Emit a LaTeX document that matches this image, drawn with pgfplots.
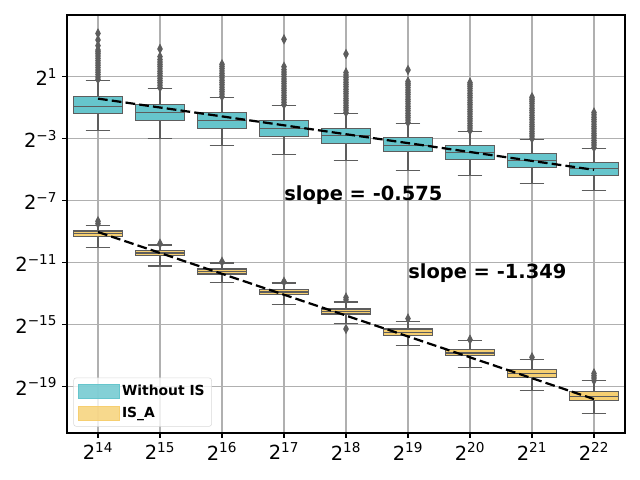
\documentclass[border=0pt]{standalone}
\usepackage{fontspec}
\setmainfont{DejaVu Sans}
\usepackage{pgfplots}
\pgfplotsset{compat=1.18}
\usepgfplotslibrary{statistics}
\definecolor{cteal}{HTML}{66C5CC}
\definecolor{cyel}{HTML}{F6CF71}
\definecolor{boxgray}{HTML}{5D5D5D}
\definecolor{gridgray}{HTML}{B0B0B0}
\pgfplotsset{
  bx/.style={boxplot prepared={#1}, draw=boxgray, line width=0.8pt, mark=diamond*, mark size=3pt,
    mark options={fill=boxgray, draw=boxgray, xscale=0.7, solid}, forget plot},
}
\begin{document}
\begin{tikzpicture}
\path[use as bounding box] (0,0) rectangle (460.8pt,345.6pt);
\begin{axis}[
  at={(48.24pt,33.84pt)}, anchor=south west,
  scale only axis, width=401.76pt, height=300.96pt,
  xmin=-0.5, xmax=8.5, ymin=-22, ymax=5,
  xtick={0,1,2,3,4,5,6,7,8},
  xticklabels={2\textsuperscript{14},2\textsuperscript{15},2\textsuperscript{16},2\textsuperscript{17},2\textsuperscript{18},2\textsuperscript{19},2\textsuperscript{20},2\textsuperscript{21},2\textsuperscript{22}},
  ytick={1,-3,-7,-11,-15,-19},
  yticklabels={2\textsuperscript{1},2\textsuperscript{−3},2\textsuperscript{−7},2\textsuperscript{−11},2\textsuperscript{−15},2\textsuperscript{−19}},
  ticklabel style={font=\fontsize{14}{16}\selectfont},
  tick align=outside, tick pos=left, major tick length=3.5pt,
  tick style={black, line width=0.8pt},
  axis line style={line width=0.8pt},
  grid=major, grid style={color=gridgray, line width=0.8pt},
  boxplot/draw direction=y,
  boxplot/box extend=0.8, boxplot/whisker extend=0.4,
  legend style={at={(rel axis cs:0.0113,0.015)}, anchor=south west,
    font=\bfseries\fontsize{10}{12}\selectfont, draw=black!15, fill=white, fill opacity=0.8, text opacity=1,
    rounded corners=2pt, row sep=3pt, inner sep=3pt},
  legend cell align=left,
]
% ---------- Without IS ----------
\addplot[bx={draw position=0, lower whisker=-2.44, lower quartile=-1.34, median=-0.89, upper quartile=-0.245, upper whisker=0.787}, fill=cteal]
 table[row sep=\\,y index=0]{0.85\\1.0\\1.15\\1.3\\1.45\\1.6\\1.75\\1.9\\2.05\\2.2\\2.35\\2.5\\2.62\\2.74\\3.02\\3.39\\3.81\\};
\addplot[bx={draw position=1, lower whisker=-3.0, lower quartile=-1.79, median=-1.32, upper quartile=-0.76, upper whisker=0.27}, fill=cteal]
 table[row sep=\\,y index=0]{0.32\\0.47\\0.62\\0.77\\0.92\\1.07\\1.22\\1.37\\1.52\\1.67\\1.82\\1.97\\2.12\\2.31\\2.81\\};
\addplot[bx={draw position=2, lower whisker=-3.41, lower quartile=-2.31, median=-1.84, upper quartile=-1.28, upper whisker=-0.31}, fill=cteal]
 table[row sep=\\,y index=0]{-0.26\\-0.11\\0.04\\0.19\\0.34\\0.49\\0.64\\0.79\\0.94\\1.09\\1.24\\1.39\\1.54\\1.68\\1.82\\};
\addplot[bx={draw position=3, lower whisker=-3.99, lower quartile=-2.83, median=-2.35, upper quartile=-1.79, upper whisker=-0.83}, fill=cteal]
 table[row sep=\\,y index=0]{-0.78\\-0.63\\-0.48\\-0.33\\-0.18\\-0.03\\0.12\\0.27\\0.42\\0.57\\0.72\\0.87\\1.02\\1.17\\1.32\\1.47\\1.66\\3.43\\};
\addplot[bx={draw position=4, lower whisker=-4.37, lower quartile=-3.28, median=-2.79, upper quartile=-2.31, upper whisker=-1.34}, fill=cteal]
 table[row sep=\\,y index=0]{-1.29\\-1.14\\-0.99\\-0.84\\-0.69\\-0.54\\-0.39\\-0.24\\-0.09\\0.06\\0.21\\0.36\\0.51\\0.66\\0.81\\0.96\\1.12\\1.28\\2.48\\};
\addplot[bx={draw position=5, lower whisker=-5.02, lower quartile=-3.79, median=-3.41, upper quartile=-2.89, upper whisker=-1.99}, fill=cteal]
 table[row sep=\\,y index=0]{-1.94\\-1.79\\-1.64\\-1.49\\-1.34\\-1.19\\-1.04\\-0.89\\-0.74\\-0.59\\-0.44\\-0.29\\-0.14\\0.01\\0.16\\0.31\\0.46\\0.58\\0.70\\1.45\\};
\addplot[bx={draw position=6, lower whisker=-5.34, lower quartile=-4.31, median=-3.86, upper quartile=-3.41, upper whisker=-2.50}, fill=cteal]
 table[row sep=\\,y index=0]{-2.45\\-2.30\\-2.15\\-2.00\\-1.85\\-1.70\\-1.55\\-1.40\\-1.25\\-1.10\\-0.95\\-0.80\\-0.65\\-0.50\\-0.35\\-0.20\\-0.05\\0.10\\0.25\\0.40\\0.52\\0.63\\};
\addplot[bx={draw position=7, lower whisker=-5.86, lower quartile=-4.83, median=-4.42, upper quartile=-3.95, upper whisker=-3.02}, fill=cteal]
 table[row sep=\\,y index=0]{-2.97\\-2.82\\-2.67\\-2.52\\-2.37\\-2.22\\-2.07\\-1.92\\-1.77\\-1.62\\-1.47\\-1.32\\-1.17\\-1.02\\-0.87\\-0.72\\-0.57\\-0.44\\-0.31\\};
\addplot[bx={draw position=8, lower whisker=-6.31, lower quartile=-5.34, median=-4.94, upper quartile=-4.53, upper whisker=-3.60}, fill=cteal]
 table[row sep=\\,y index=0]{-3.55\\-3.40\\-3.25\\-3.10\\-2.95\\-2.80\\-2.65\\-2.50\\-2.35\\-2.20\\-2.05\\-1.90\\-1.75\\-1.60\\-1.45\\-1.30\\};
% ---------- IS_A ----------
\addplot[bx={draw position=0, lower whisker=-9.99, lower quartile=-9.28, median=-9.11, upper quartile=-8.955, upper whisker=-8.57}, fill=cyel]
 table[row sep=\\,y index=0]{-8.48\\-8.32\\};
\addplot[bx={draw position=1, lower whisker=-11.21, lower quartile=-10.51, median=-10.37, upper quartile=-10.24, upper whisker=-9.86}, fill=cyel]
 table[row sep=\\,y index=0]{-9.77\\};
\addplot[bx={draw position=2, lower whisker=-12.29, lower quartile=-11.73, median=-11.56, upper quartile=-11.41, upper whisker=-11.02}, fill=cyel]
 table[row sep=\\,y index=0]{-10.94\\};
\addplot[bx={draw position=3, lower whisker=-13.69, lower quartile=-13.03, median=-12.89, upper quartile=-12.75, upper whisker=-12.31}, fill=cyel]
 table[row sep=\\,y index=0]{-12.23\\};
\addplot[bx={draw position=4, lower whisker=-14.95, lower quartile=-14.31, median=-14.14, upper quartile=-13.99, upper whisker=-13.54}, fill=cyel]
 table[row sep=\\,y index=0]{-13.25\\-13.40\\-15.28\\};
\addplot[bx={draw position=5, lower whisker=-16.35, lower quartile=-15.73, median=-15.50, upper quartile=-15.28, upper whisker=-14.79}, fill=cyel]
 table[row sep=\\,y index=0]{-14.61\\};
\addplot[bx={draw position=6, lower whisker=-17.79, lower quartile=-17.02, median=-16.83, upper quartile=-16.63, upper whisker=-16.05}, fill=cyel]
 table[row sep=\\,y index=0]{-15.97\\};
\addplot[bx={draw position=7, lower whisker=-19.26, lower quartile=-18.44, median=-18.18, upper quartile=-17.92, upper whisker=-17.28}, fill=cyel]
 table[row sep=\\,y index=0]{-17.11\\};
\addplot[bx={draw position=8, lower whisker=-20.76, lower quartile=-19.92, median=-19.65, upper quartile=-19.34, upper whisker=-18.63}, fill=cyel]
 table[row sep=\\,y index=0]{-18.15\\-18.30\\-18.45\\-18.60\\};
% ---------- fitted lines ----------
\addplot[black, line width=1.6pt, dash pattern=on 7pt off 3pt, forget plot] coordinates {(0,-0.40) (8,-5.00)};
\addplot[black, line width=1.6pt, dash pattern=on 7pt off 3pt, forget plot] coordinates {(0,-9.02) (8,-19.81)};
% ---------- legend ----------
\addlegendimage{legend image code/.code={\fill[cteal, sharp corners] (0pt,-5pt) rectangle (29.5pt,5pt);}}
\addlegendentry{Without IS}
\addlegendimage{legend image code/.code={\fill[cyel, sharp corners] (0pt,-5pt) rectangle (29.5pt,5pt);}}
\addlegendentry{IS\_A}
\node[anchor=base west, font=\bfseries\fontsize{14}{16}\selectfont, inner sep=0pt] at (axis cs:3,-7) {slope = -0.575};
\node[anchor=base west, font=\bfseries\fontsize{14}{16}\selectfont, inner sep=0pt] at (axis cs:5,-12) {slope = -1.349};
\end{axis}
\end{tikzpicture}
\end{document}
